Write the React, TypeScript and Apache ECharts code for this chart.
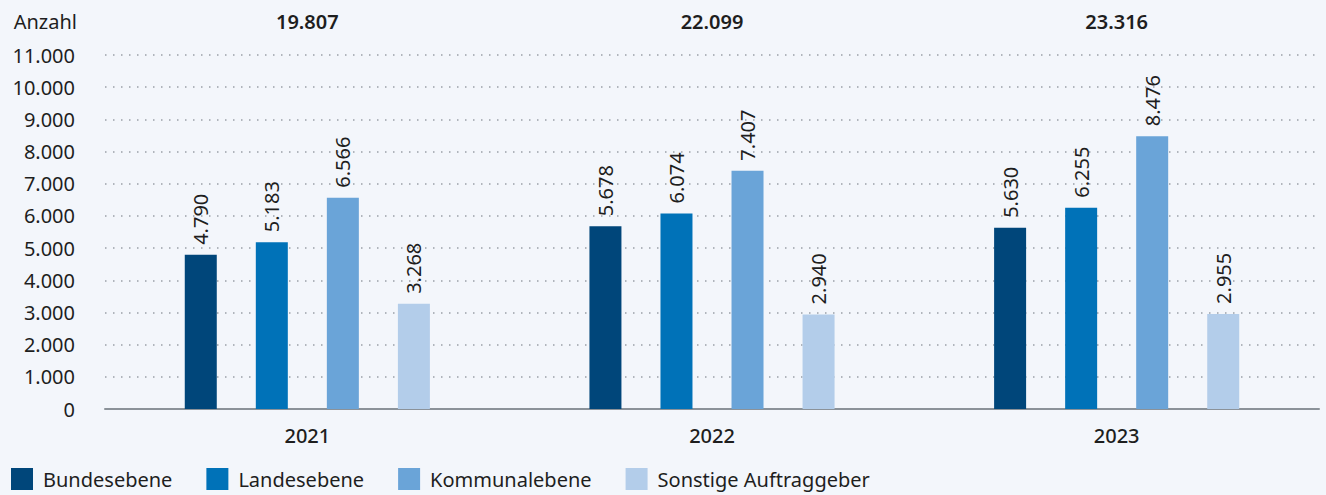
import React, { useEffect, useRef } from "react";
import * as echarts from "echarts";

const years = ["2021", "2022", "2023"];
const totals = ["19.807", "22.099", "23.316"];
const bundesebene = [4790, 5678, 5630];
const landesebene = [5183, 6074, 6255];
const kommunalebene = [6566, 7407, 8476];
const sonstige = [3268, 2940, 2955];
const seriesNames = ["Bundesebene", "Landesebene", "Kommunalebene", "Sonstige Auftraggeber"];
const colors = ["#00467a", "#0072b8", "#6aa4d8", "#b3cdea"];

const fmt = (v: number) => String(v).replace(/\B(?=(\d{3})+(?!\d))/g, ".");
const FONT = "'Noto Sans', 'Open Sans', sans-serif";

export default function App() {
  const ref = useRef<HTMLDivElement>(null);
  useEffect(() => {
    if (!ref.current) return;
    const chart = echarts.init(ref.current, null, { renderer: "svg" });
    const data = [bundesebene, landesebene, kommunalebene, sonstige];
    chart.setOption({
      animation: false,
      backgroundColor: "#f3f6fb",
      textStyle: { fontFamily: FONT },
      legend: {
        left: 11,
        top: 468,
        padding: 0,
        itemWidth: 22,
        itemHeight: 22,
        itemGap: 34,
        icon: "rect",
        textStyle: { fontSize: 20, color: "#1e1e1e", fontFamily: FONT, padding: [0, 0, 0, 5] },
        data: seriesNames,
      },
      grid: { left: 105, right: 7, top: 55, bottom: 86, containLabel: false },
      xAxis: [
        {
          type: "category",
          data: years,
          axisLine: { lineStyle: { color: "#8b9299", width: 2 } },
          axisTick: { show: false },
          axisLabel: { fontSize: 20, color: "#1e1e1e", fontWeight: 500, margin: 16, fontFamily: FONT },
        },
        {
          type: "category",
          position: "top",
          data: totals,
          axisLine: { show: false },
          axisTick: { show: false },
          axisLabel: { fontSize: 20, color: "#1e1e1e", fontWeight: 600, margin: 24, fontFamily: FONT },
        },
      ],
      yAxis: {
        type: "value",
        min: 0,
        max: 11000,
        interval: 1000,
        name: "Anzahl",
        nameLocation: "end",
        nameGap: 24,
        nameTextStyle: { fontSize: 20, color: "#1e1e1e", align: "right", padding: [0, 28, 0, 0], fontFamily: FONT },
        axisLine: { show: false },
        axisTick: { show: false },
        axisLabel: { fontSize: 20, color: "#1e1e1e", margin: 30, formatter: (v: number) => fmt(v), fontFamily: FONT },
        splitLine: { lineStyle: { color: "#9aa0a8", width: 1.5, type: [1.5, 6.5] } },
      },
      series: seriesNames.map((name, i) => ({
        name,
        type: "bar",
        xAxisIndex: 0,
        data: data[i],
        barWidth: 32,
        barGap: "122%",
        itemStyle: { color: colors[i] },
        label: {
          show: true,
          position: "top",
          rotate: 90,
          align: "left",
          verticalAlign: "middle",
          distance: 10,
          fontSize: 20,
          color: "#1e1e1e",
          fontFamily: FONT,
          formatter: (p: any) => fmt(p.value),
        },
      })),
    });
    return () => chart.dispose();
  }, []);
  return <div ref={ref} style={{ position: "fixed", left: 0, top: 0, width: 1326, height: 495 }} />;
}
